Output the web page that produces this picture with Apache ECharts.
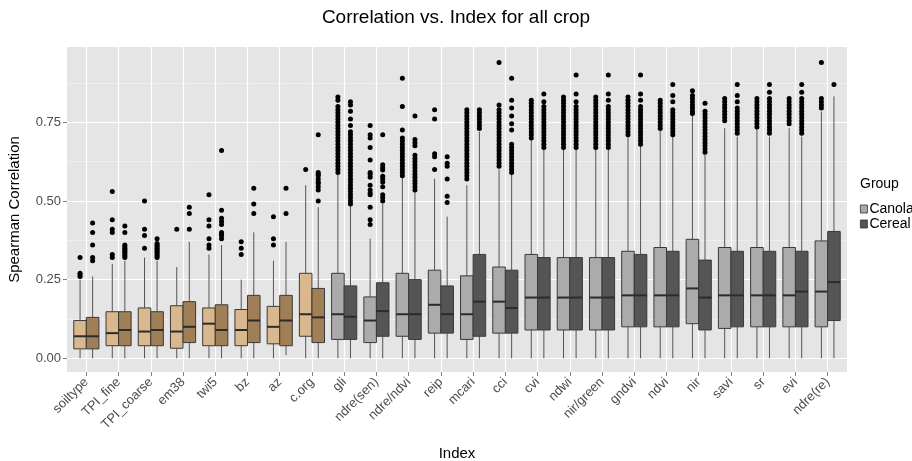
<!DOCTYPE html>
<html><head><meta charset="utf-8">
<script src="https://cdn.jsdelivr.net/npm/echarts@6.0.0/dist/echarts.min.js"></script>
<style>html,body{margin:0;padding:0;background:#fff}#chart{width:912px;height:461px}</style>
</head><body><div id="chart"></div>
<script>
const categories = ['soiltype','TPI_fine','TPI_coarse','em38','twi5','bz','az','c.org','gli','ndre(sen)','ndre/ndvi','reip','mcari','cci','cvi','ndwi','nir/green','gndvi','ndvi','nir','savi','sr','evi','ndre(re)'];
// [lower whisker, Q1, median, Q3, upper whisker]
const canolaStats = [
 [0,0.03,0.07,0.12,0.25],[0,0.04,0.08,0.148,0.30],[0,0.04,0.085,0.16,0.32],[0,0.032,0.085,0.167,0.29],
 [0,0.04,0.11,0.16,0.33],[0,0.04,0.09,0.155,0.25],[0,0.046,0.10,0.165,0.31],[0,0.07,0.14,0.27,0.55],
 [0,0.06,0.14,0.27,0.583],[0,0.05,0.12,0.195,0.38],[0,0.07,0.14,0.27,0.575],[0,0.08,0.17,0.28,0.57],
 [0,0.06,0.14,0.262,0.55],[0,0.08,0.18,0.29,0.60],[0,0.09,0.193,0.33,0.694],[0,0.09,0.193,0.32,0.667],
 [0,0.09,0.193,0.32,0.667],[0,0.10,0.20,0.34,0.704],[0,0.10,0.20,0.352,0.726],[0,0.11,0.222,0.378,0.773],
 [0,0.095,0.20,0.352,0.731],[0,0.10,0.20,0.352,0.731],[0,0.10,0.20,0.352,0.731],[0,0.10,0.212,0.373,0.784]
];
const cerealStats = [
 [0,0.03,0.07,0.13,0.26],[0,0.04,0.09,0.148,0.31],[0,0.04,0.09,0.148,0.31],[0,0.05,0.10,0.18,0.37],
 [0,0.04,0.09,0.17,0.36],[0,0.05,0.12,0.20,0.40],[0.01,0.04,0.12,0.20,0.37],[0,0.05,0.13,0.222,0.48],
 [0,0.06,0.132,0.23,0.487],[0,0.07,0.15,0.24,0.49],[0,0.06,0.14,0.25,0.53],[0,0.08,0.14,0.23,0.45],
 [0,0.07,0.18,0.33,0.72],[0,0.08,0.16,0.28,0.583],[0,0.09,0.193,0.32,0.667],[0,0.09,0.193,0.32,0.667],
 [0,0.09,0.193,0.32,0.662],[0,0.10,0.20,0.33,0.678],[0,0.10,0.20,0.34,0.704],[0,0.09,0.193,0.312,0.646],
 [0,0.10,0.20,0.34,0.704],[0,0.10,0.20,0.34,0.704],[0,0.10,0.212,0.34,0.704],[0,0.12,0.242,0.403,0.832]
];
const canolaOutliers = [
 [0.32,0.27,0.265,0.26],
 [0.53,0.44,0.41,0.40,0.33,0.32],
 [0.50,0.41,0.39,0.35],
 [0.41],
 [0.52,0.44,0.42,0.38,0.36,0.35],
 [0.37,0.35,0.33],
 [0.45,0.38,0.36],
 [0.60],
 [0.83,0.82,0.80,0.79,0.78,0.77,0.76,0.75,0.74,0.73,0.72,0.71,0.70,0.69,0.68,0.67,0.66,0.65,0.64,0.63,0.62,0.61,0.60,0.59],
 [0.74,0.71,0.70,0.67,0.63,0.59,0.585,0.575,0.55,0.535,0.525,0.52,0.48,0.44,0.425],
 [0.89,0.80,0.725,0.70,0.69,0.68,0.67,0.66,0.65,0.64,0.63,0.62,0.61,0.60,0.59,0.58],
 [0.79,0.76,0.65,0.64,0.60],
 [0.79,0.78,0.77,0.76,0.75,0.74,0.73,0.72,0.71,0.70,0.69,0.68,0.67,0.66,0.65,0.64,0.63,0.62,0.61,0.60,0.59,0.58,0.57],
 [0.94,0.805,0.79,0.78,0.77,0.76,0.75,0.74,0.73,0.72,0.71,0.70,0.69,0.68,0.67,0.66,0.65,0.64,0.63,0.62,0.61],
 [0.82,0.81,0.80,0.79,0.78,0.77,0.76,0.75,0.74,0.73,0.72,0.71,0.70],
 [0.83,0.82,0.81,0.80,0.79,0.78,0.77,0.76,0.75,0.74,0.73,0.72,0.71,0.70,0.69,0.68,0.67],
 [0.83,0.82,0.81,0.80,0.79,0.78,0.77,0.76,0.75,0.74,0.73,0.72,0.71,0.70,0.69,0.68,0.67],
 [0.83,0.82,0.81,0.80,0.79,0.78,0.77,0.76,0.75,0.74,0.73,0.72,0.71],
 [0.82,0.81,0.80,0.79,0.78,0.77,0.76,0.75,0.74,0.73],
 [0.85,0.835,0.825,0.815,0.805,0.795,0.785,0.778],
 [0.825,0.815,0.805,0.795,0.785,0.775,0.765,0.755],
 [0.825,0.815,0.805,0.795,0.785,0.775,0.765,0.755,0.745,0.735],
 [0.825,0.815,0.805,0.795,0.785,0.775,0.765,0.755,0.745],
 [0.94,0.825,0.815,0.805,0.795]
];
const cerealOutliers = [
 [0.43,0.40,0.36,0.32,0.31],
 [0.42,0.40,0.36,0.355,0.35,0.345,0.34,0.335,0.33,0.325,0.32],
 [0.38,0.365,0.36,0.355,0.35,0.345,0.34,0.335,0.33,0.325,0.32],
 [0.48,0.46,0.41],
 [0.66,0.47,0.445,0.435,0.425,0.40,0.395,0.39,0.38],
 [0.54,0.49,0.46],
 [0.54,0.46],
 [0.71,0.59,0.585,0.58,0.57,0.56,0.555,0.545,0.535,0.50],
 [0.815,0.805,0.785,0.76,0.74,0.72,0.71,0.70,0.69,0.68,0.67,0.66,0.65,0.64,0.63,0.62,0.61,0.60,0.59,0.58,0.57,0.56,0.55,0.54,0.53,0.52,0.51,0.50,0.49],
 [0.71,0.615,0.605,0.598,0.578,0.57,0.56,0.545,0.52,0.51,0.50],
 [0.77,0.695,0.685,0.675,0.645,0.635,0.625,0.615,0.605,0.595,0.585,0.575,0.565,0.555,0.545,0.535],
 [0.64,0.62,0.61,0.57,0.515,0.495],
 [0.79,0.78,0.77,0.76,0.75,0.74,0.73],
 [0.89,0.82,0.795,0.77,0.745,0.725,0.68,0.67,0.66,0.65,0.64,0.63,0.62,0.61,0.60,0.59],
 [0.84,0.815,0.80,0.79,0.78,0.77,0.76,0.75,0.74,0.73,0.72,0.71,0.70,0.69,0.68,0.67],
 [0.90,0.84,0.815,0.80,0.79,0.78,0.77,0.76,0.75,0.74,0.73,0.72,0.71,0.70,0.69,0.68,0.67],
 [0.90,0.84,0.82,0.80,0.79,0.78,0.77,0.76,0.75,0.74,0.73,0.72,0.71,0.70,0.69,0.68,0.67],
 [0.90,0.84,0.82,0.80,0.79,0.78,0.77,0.76,0.75,0.74,0.73,0.72,0.71,0.70,0.69,0.68],
 [0.87,0.835,0.815,0.79,0.78,0.77,0.76,0.75,0.74,0.73,0.72,0.71],
 [0.81,0.785,0.775,0.765,0.755,0.745,0.735,0.725,0.715,0.705,0.695,0.685,0.675,0.665,0.655],
 [0.87,0.835,0.815,0.795,0.785,0.775,0.765,0.755,0.745,0.735,0.725,0.715],
 [0.87,0.845,0.825,0.815,0.805,0.795,0.785,0.775,0.765,0.755,0.745,0.735,0.725,0.715],
 [0.87,0.845,0.825,0.815,0.805,0.795,0.785,0.775,0.765,0.755,0.745,0.735,0.725,0.715],
 [0.87]
];
const yTicks = [0, 0.25, 0.5, 0.75];
const yMinorTicks = [0.125, 0.375, 0.625, 0.875];

const FONT = "'Liberation Sans', Arial, Helvetica, sans-serif";
const BOX_W = 0.39;
const OFFSET = 0.195;
const SOIL_COUNT = 8;
const COLORS = {
  Canola: {soil: '#D8B88C', spec: '#ABABAB'},
  Cereal: {soil: '#A07E56', spec: '#555555'}
};
const catIdx = categories.map((_, i) => i);

function boxSeries(name, stats, off) {
  return {
    type: 'custom', name: name,
    itemStyle: {color: COLORS[name].spec, borderColor: '#333'},
    data: stats.map((s, i) => [i].concat(s)),
    encode: {x: 0, y: [1, 2, 3, 4, 5]},
    z: 2,
    renderItem: function (params, api) {
      const i = api.value(0);
      const cx = i + off;
      const low = api.coord([cx, api.value(1)]);
      const q1 = api.coord([cx, api.value(2)]);
      const med = api.coord([cx, api.value(3)]);
      const q3 = api.coord([cx, api.value(4)]);
      const high = api.coord([cx, api.value(5)]);
      const w = api.size([BOX_W, 0], [cx, 0])[0];
      const x0 = q1[0] - w / 2;
      const fill = i < SOIL_COUNT ? COLORS[name].soil : COLORS[name].spec;
      return {type: 'group', children: [
        {type: 'line', shape: {x1: low[0], y1: low[1], x2: q1[0], y2: q1[1]}, style: {stroke: '#555', lineWidth: 1}},
        {type: 'line', shape: {x1: q3[0], y1: q3[1], x2: high[0], y2: high[1]}, style: {stroke: '#555', lineWidth: 1}},
        {type: 'rect', shape: {x: x0, y: q3[1], width: w, height: q1[1] - q3[1]}, style: {fill: fill, stroke: '#3a3a3a', lineWidth: 1}},
        {type: 'line', shape: {x1: x0, y1: med[1], x2: x0 + w, y2: med[1]}, style: {stroke: '#2b2b2b', lineWidth: 2}}
      ]};
    }
  };
}
function outlierSeries(name, outs, off) {
  const data = [];
  outs.forEach((arr, i) => arr.forEach(v => data.push([i + off, v])));
  return {type: 'scatter', name: name, data: data, symbolSize: 5, itemStyle: {color: '#000', opacity: 1}, silent: true, z: 3};
}

const chart = echarts.init(document.getElementById('chart'), null, {renderer: 'canvas'});
chart.setOption({
  animation: false,
  textStyle: {fontFamily: FONT},
  title: [
    {text: 'Correlation vs. Index for all crop', left: 'center', top: 8, padding: 0, textStyle: {fontSize: 19, fontWeight: 'normal', color: '#000', fontFamily: FONT}},
    {text: 'Group', left: 860, top: 177, padding: 0, textStyle: {fontSize: 14, fontWeight: 'normal', color: '#000', fontFamily: FONT}}
  ],
  legend: {
    orient: 'vertical', left: 860, top: 202, padding: 0, itemWidth: 7, itemHeight: 8, itemGap: 1, icon: 'rect',
    textStyle: {fontSize: 14, lineHeight: 12, color: '#000', fontFamily: FONT, padding: [0, 0, 0, -3]},
    data: [
      {name: 'Canola', itemStyle: {color: COLORS.Canola.spec, borderColor: '#333', borderWidth: 0.8}},
      {name: 'Cereal', itemStyle: {color: COLORS.Cereal.spec, borderColor: '#333', borderWidth: 0.8}}
    ]
  },
  grid: {left: 67, right: 65, top: 47, bottom: 89, show: true, backgroundColor: '#E5E5E5', borderWidth: 0, outerBoundsMode: 'none', containLabel: false},
  xAxis: {
    type: 'value', min: -0.6, max: 23.6,
    axisLine: {show: false, onZero: false},
    axisTick: {show: true, customValues: catIdx, length: 4, lineStyle: {color: '#7f7f7f'}},
    axisLabel: {customValues: catIdx, rotate: 45, formatter: v => categories[Math.round(v)], color: '#4d4d4d', fontSize: 13, margin: 8, fontFamily: FONT},
    splitLine: {show: true, lineStyle: {color: '#fff', width: 1.2}},
    name: 'Index', nameLocation: 'middle', nameGap: 74,
    nameTextStyle: {fontSize: 15, color: '#000', fontFamily: FONT}
  },
  yAxis: [{
    type: 'value', min: -0.0435, max: 0.989,
    axisLine: {show: false, onZero: false},
    axisTick: {show: true, customValues: yTicks, length: 4, lineStyle: {color: '#7f7f7f'}},
    axisLabel: {customValues: yTicks, formatter: v => v.toFixed(2), color: '#4d4d4d', fontSize: 13, margin: 6, fontFamily: FONT},
    splitLine: {show: true, lineStyle: {color: '#fff', width: 1.2}},
    name: 'Spearman Correlation', nameLocation: 'middle', nameGap: 45,
    nameTextStyle: {fontSize: 15, color: '#000', fontFamily: FONT}
  }, {
    type: 'value', min: -0.0435, max: 0.989, position: 'left',
    axisLine: {show: false, onZero: false},
    axisTick: {show: false, customValues: yMinorTicks},
    axisLabel: {show: false, customValues: yMinorTicks},
    splitLine: {show: true, lineStyle: {color: '#F2F2F2', width: 0.7}}
  }],
  series: [
    boxSeries('Canola', canolaStats, -OFFSET),
    boxSeries('Cereal', cerealStats, OFFSET),
    outlierSeries('Canola outliers', canolaOutliers, -OFFSET),
    outlierSeries('Cereal outliers', cerealOutliers, OFFSET)
  ]
});
</script>
</body></html>
